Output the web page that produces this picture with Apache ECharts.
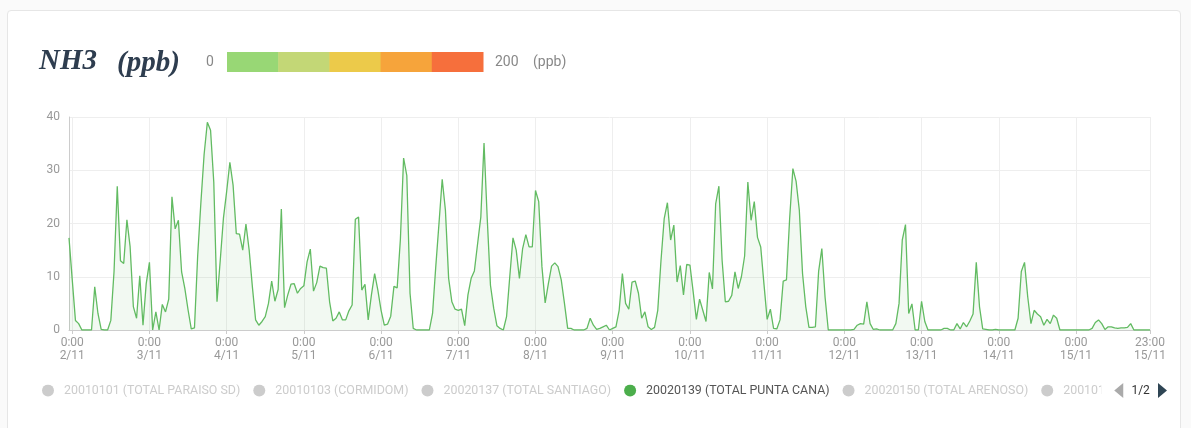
<!DOCTYPE html>
<html>
<head>
<meta charset="utf-8">
<script src="https://cdn.jsdelivr.net/npm/echarts@6/dist/echarts.min.js"></script>
<style>
  html, body { margin: 0; padding: 0; width: 1191px; height: 428px; overflow: hidden; background: #fafafa; font-family: Roboto, sans-serif; }
  .card { position: absolute; left: 7px; top: 10px; width: 1174px; height: 440px; background: #fff; border: 1px solid #e6e6e6; border-radius: 4px; box-sizing: border-box; }
  #chart { position: absolute; left: 0; top: 0; width: 1191px; height: 428px; }
</style>
</head>
<body>
<div class="card"></div>
<div id="chart"></div>
<script>
// Days shown on the time axis (the series starts at 23:00 of the day before the first one)
const days = ['2/11', '3/11', '4/11', '5/11', '6/11', '7/11', '8/11', '9/11', '10/11', '11/11', '12/11', '13/11', '14/11', '15/11'];
const firstStamp = '23:00\n1/11';

// Hourly NH3 (ppb) at the selected station
const nh3Start = [17.3];
const nh3Day02 = [9.5, 1.8, 1.2, 0, 0, 0, 0, 8.1, 3.1, 0.1, 0, 0, 1.8, 11, 27, 13, 12.5, 20.7, 15.6, 4.4, 2.2, 10.2, 0.9, 8.7];
const nh3Day03 = [12.7, 0, 3.4, 0, 4.8, 3.4, 5.8, 25, 19, 20.6, 10.9, 7.8, 3.8, 0.2, 0.4, 14, 24, 33, 39, 37.5, 27.8, 5.3, 13, 21];
const nh3Day04 = [26, 31.5, 27.2, 18.1, 18, 15, 19.9, 15, 8.1, 1.9, 0.9, 1.6, 2.5, 5, 9.2, 5.4, 7.6, 22.7, 4.2, 6.6, 8.6, 8.7, 6.9, 7.8];
const nh3Day05 = [8.3, 12.8, 15.2, 7.3, 8.9, 12, 11.7, 11.6, 5.3, 1.7, 2.2, 3.4, 1.9, 1.9, 3.6, 4.7, 20.8, 21.2, 7.5, 8.6, 1.9, 6.6, 10.6, 7.5];
const nh3Day06 = [3.7, 0.9, 1.1, 2.6, 8.2, 7.9, 17, 32.3, 29, 6.9, 0.3, 0, 0, 0, 0, 0, 3.1, 11.9, 20, 28.3, 22.5, 9.7, 5.3, 3.9];
const nh3Day07 = [3.7, 3.9, 0.8, 6.6, 9.7, 11.1, 16.2, 21.2, 35.1, 20.9, 8.4, 4.1, 0.8, 0.3, 0, 2.5, 10, 17.3, 15, 9.7, 15.3, 17.9, 15.6, 15.6];
const nh3Day08 = [26.2, 24.1, 11.9, 5.1, 8.7, 12, 12.6, 11.9, 9.4, 5, 0.3, 0.3, 0, 0, 0, 0, 0.3, 2.2, 0.9, 0.1, 0.3, 0.6, 0.9, 0];
const nh3Day09 = [0.3, 0.6, 3.7, 10.6, 5, 3.9, 9, 9.2, 6.9, 2.2, 3.4, 0.6, 0.1, 0.5, 3.7, 13, 20.9, 23.9, 16.9, 19.7, 9, 12.1, 6.6, 12.3];
const nh3Day10 = [12.2, 7.2, 2, 5.8, 3.7, 1.6, 10.8, 7.7, 23.7, 27, 13.1, 5.3, 5.4, 6.5, 10.9, 7.8, 10, 13.9, 27.8, 20.6, 24.1, 17.4, 15.6, 8.7];
const nh3Day11 = [2, 3.9, 0.3, 0.2, 1.9, 9.2, 9.4, 21, 30.3, 27.9, 22.5, 10.6, 4.4, 0.5, 0.5, 0.6, 11, 15.3, 6.2, 0, 0, 0, 0, 0];
const nh3Day12 = [0, 0, 0, 0.1, 0.9, 1.2, 1.1, 5.3, 1.2, 0.1, 0.2, 0, 0, 0, 0, 0, 1.2, 5, 16.9, 19.8, 3.1, 4.9, 0, 0];
const nh3Day13 = [5.4, 1.6, 0, 0, 0, 0, 0, 0.3, 0.3, 0, 0, 1.2, 0.2, 1.4, 0.6, 1.7, 3, 12.7, 4.4, 0.2, 0.1, 0, 0, 0.1];
const nh3Day14 = [0, 0, 0, 0, 0, 0, 2.2, 11, 12.7, 6.2, 1.2, 3.7, 3, 2.5, 0.9, 2, 1.2, 2.8, 2.2, 0, 0, 0, 0, 0];
const nh3Day15 = [0, 0, 0, 0, 0, 0.3, 1.4, 1.9, 1.2, 0.1, 0.6, 0.6, 0.4, 0.3, 0.4, 0.4, 0.5, 1.2, 0, 0, 0, 0, 0, 0];

// Stations listed in the legend; only one is switched on
const stations = [
  '20010101 (TOTAL PARAISO SD)',
  '20010103 (CORMIDOM)',
  '20020137 (TOTAL SANTIAGO)',
  '20020139 (TOTAL PUNTA CANA)',
  '20020150 (TOTAL ARENOSO)',
  '20010104 (TOTAL LA ROMANA)',
  '20010105 (TOTAL BANI)',
  '20020141 (TOTAL HIGUEY)'
];
const activeStation = '20020139 (TOTAL PUNTA CANA)';

// Y axis ticks
const yTicks = [0, 10, 20, 30, 40];

// Colour scale shown next to the title (0 → 200 ppb)
const scaleColors = ['#98d775', '#c3d776', '#ecca4a', '#f6a43b', '#f66f3c'];
const scaleMinLabel = '0';
const scaleMaxLabel = '200';
const scaleUnit = '(ppb)';

// Build the hourly category labels
const categories = [firstStamp];
days.forEach(d => { for (let h = 0; h < 24; h++) categories.push(h + ':00\n' + d); });

const nh3Values = [].concat(nh3Start, nh3Day02, nh3Day03, nh3Day04, nh3Day05, nh3Day06, nh3Day07,
  nh3Day08, nh3Day09, nh3Day10, nh3Day11, nh3Day12, nh3Day13, nh3Day14, nh3Day15);

const lastIndex = categories.length - 1;
const isDayMark = (i) => i === lastIndex || categories[i].indexOf('0:00\n') === 0;

const chart = echarts.init(document.getElementById('chart'), null, { renderer: 'canvas' });

// Header: title and the colour scale bar
const barLeft = 227, barTop = 52, barW = 256, barH = 20;
const segW = barW / scaleColors.length;
const titleFont = 'italic bold 29px "Liberation Serif", serif';
const header = [
  { type: 'text', left: 39, top: 47, style: { text: 'NH3', font: titleFont, fill: '#2e3d4f' } },
  { type: 'text', left: 117, top: 49, style: { text: '(ppb)', font: titleFont, fill: '#2e3d4f' } },
  { type: 'text', left: 206, top: 55, style: { text: scaleMinLabel, font: '14px Roboto, sans-serif', fill: '#888' } },
  { type: 'text', left: 495, top: 55, style: { text: scaleMaxLabel, font: '14px Roboto, sans-serif', fill: '#888' } },
  { type: 'text', left: 533, top: 55, style: { text: scaleUnit, font: '14px Roboto, sans-serif', fill: '#888' } }
];
scaleColors.forEach((c, i) => {
  header.push({ type: 'rect', shape: { x: barLeft + i * segW, y: barTop, width: segW + 0.5, height: barH }, style: { fill: c } });
});

const selected = {};
stations.forEach(s => { selected[s] = s === activeStation; });

const series = stations.map(name => ({
  name: name,
  type: 'line',
  data: name === activeStation ? nh3Values : [],
  symbol: 'none',
  showSymbol: false,
  color: '#4cae4c',
  lineStyle: { width: 1.3, color: '#62bb62' },
  areaStyle: { color: 'rgba(76,174,76,0.1)' }
}));

chart.setOption({
  animation: false,
  graphic: header,
  grid: { left: 69, right: 41, top: 117, bottom: 98, containLabel: false },
  legend: {
    type: 'scroll',
    data: stations,
    selected: selected,
    left: 37,
    top: 378,
    width: 1125,
    icon: 'circle',
    itemWidth: 22,
    itemHeight: 12,
    itemGap: 13,
    inactiveColor: '#ccc',
    textStyle: { color: '#555', fontSize: 12.4, fontFamily: 'Roboto' },
    pageIconColor: '#2f4554',
    pageIconInactiveColor: '#aaa',
    pageIconSize: [10, 15],
    pageButtonItemGap: 3,
    pageTextStyle: { color: '#333', fontSize: 12, fontFamily: 'Roboto' }
  },
  xAxis: {
    type: 'category',
    data: categories,
    boundaryGap: false,
    axisLine: { lineStyle: { color: '#ccc' } },
    axisTick: { show: true, interval: isDayMark, length: 4, lineStyle: { color: '#ccc' } },
    axisLabel: { interval: isDayMark, color: '#999', fontSize: 12, lineHeight: 13, margin: 6, fontFamily: 'Roboto' },
    splitLine: { show: true, interval: isDayMark, lineStyle: { color: '#eee' } }
  },
  yAxis: {
    type: 'value',
    min: yTicks[0],
    max: yTicks[yTicks.length - 1],
    interval: yTicks[1] - yTicks[0],
    axisLine: { show: true, lineStyle: { color: '#ccc' } },
    axisTick: { show: false },
    axisLabel: { color: '#999', fontSize: 12, margin: 9, fontFamily: 'Roboto' },
    splitLine: { lineStyle: { color: '#eee' } }
  },
  series: series
});
</script>
</body>
</html>
